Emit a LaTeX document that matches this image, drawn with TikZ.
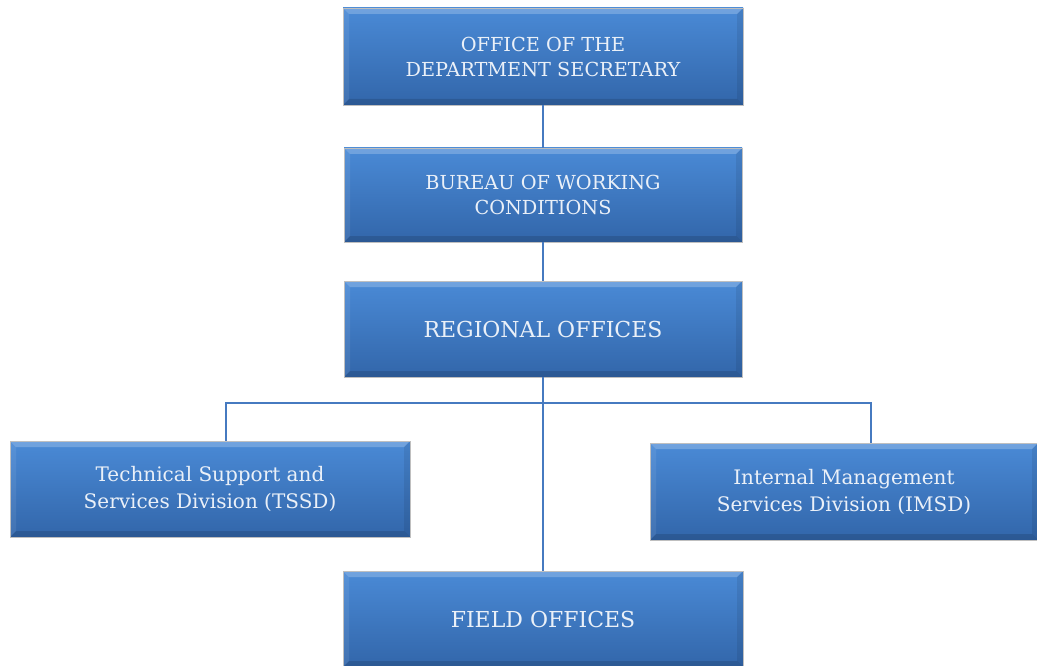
\documentclass[tikz,border=0pt]{standalone}
\usepackage{fontspec}
\setmainfont{DejaVu Serif}
\usetikzlibrary{calc}
\definecolor{boxtop}{RGB}{74,138,214}
\definecolor{boxbot}{RGB}{50,102,170}
\definecolor{linec}{RGB}{70,122,192}
\definecolor{txtc}{RGB}{234,240,248}
\tikzset{
  orgbox/.style={draw=black!25, line width=0.8pt, inner sep=0pt, align=center,
    top color=boxtop, bottom color=boxbot, text=txtc,
    path picture={
      \fill[white,opacity=0.22] (path picture bounding box.north west) -- (path picture bounding box.north east)
        -- ($(path picture bounding box.north east)+(-6,6)$) -- ($(path picture bounding box.north west)+(6,6)$) -- cycle;
      \fill[white,opacity=0.08] (path picture bounding box.north west) -- ($(path picture bounding box.north west)+(6,6)$)
        -- ($(path picture bounding box.south west)+(6,-6)$) -- (path picture bounding box.south west) -- cycle;
      \fill[black,opacity=0.13] (path picture bounding box.south west) -- (path picture bounding box.south east)
        -- ($(path picture bounding box.south east)+(-6,-6)$) -- ($(path picture bounding box.south west)+(6,-6)$) -- cycle;
      \fill[black,opacity=0.08] (path picture bounding box.north east) -- ($(path picture bounding box.north east)+(-6,6)$)
        -- ($(path picture bounding box.south east)+(-6,-6)$) -- (path picture bounding box.south east) -- cycle;
    }},
  conn/.style={draw=linec, line width=2pt}
}
\begin{document}
\begin{tikzpicture}[x=1pt,y=-1pt]
\useasboundingbox (0,0) rectangle (1037,666);
\clip (0,0) rectangle (1037,666);
\node[orgbox, minimum width=400pt, minimum height=97pt, font=\fontsize{19.3}{25}\selectfont] (sec) at (543,56.5) {OFFICE OF THE\\DEPARTMENT SECRETARY};
\node[orgbox, minimum width=398pt, minimum height=94pt, font=\fontsize{19.3}{25}\selectfont] (bwc) at (543,195) {BUREAU OF WORKING\\CONDITIONS};
\node[orgbox, minimum width=398pt, minimum height=96pt, font=\fontsize{22}{28}\selectfont] (reg) at (543,329) {REGIONAL OFFICES};
\node[orgbox, minimum width=400pt, minimum height=96pt, font=\fontsize{20}{27}\selectfont] (tssd) at (210,489) {Technical Support and\\Services Division (TSSD)};
\node[orgbox, minimum width=388pt, minimum height=97pt, font=\fontsize{20}{27}\selectfont] (imsd) at (844,491.5) {Internal Management\\Services Division (IMSD)};
\node[orgbox, minimum width=400pt, minimum height=96pt, font=\fontsize{22}{28}\selectfont] (field) at (543,619) {FIELD OFFICES};
\coordinate (hub) at (543,403);
\coordinate (lx) at (226,403);
\coordinate (rx) at (871,403);
\draw[conn] (sec.south) -- (bwc.north);
\draw[conn] (bwc.south) -- (reg.north);
\draw[conn] (reg.south) -- (field.north);
\draw[conn] (tssd.north -| lx) |- (hub) -| (imsd.north -| rx);
\end{tikzpicture}
\end{document}
